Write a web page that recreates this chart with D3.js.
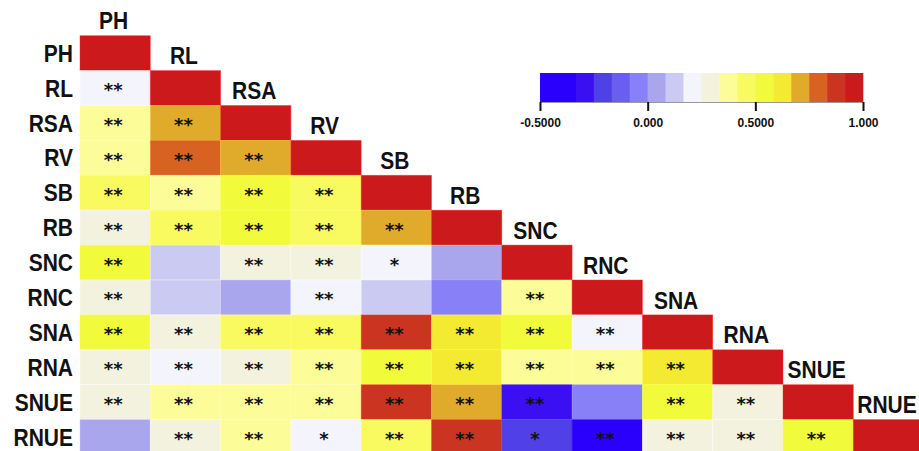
<!DOCTYPE html>
<html>
<head>
<meta charset="utf-8">
<script src="https://cdn.jsdelivr.net/npm/d3@7"></script>
<style>
  html, body { margin: 0; padding: 0; background: #fff; }
  svg { display: block; font-family: "Liberation Sans", Arial, sans-serif; }
</style>
</head>
<body>
<svg id="chart" width="919" height="451"></svg>
<script>
// Traits, in matrix order
const variables = ["PH", "RL", "RSA", "RV", "SB", "RB", "SNC", "RNC", "SNA", "RNA", "SNUE", "RNUE"];

// Lower-triangle correlation coefficients: row i holds r(i, j) for j < i
const correlations = [
  [],
  [0.21],
  [0.38, 0.71],
  [0.36, 0.79, 0.70],
  [0.46, 0.37, 0.55, 0.47],
  [0.29, 0.45, 0.54, 0.48, 0.72],
  [0.55, 0.12, 0.30, 0.28, 0.20, 0.04],
  [0.29, 0.11, 0.05, 0.22, 0.13, -0.04, 0.38],
  [0.56, 0.30, 0.47, 0.46, 0.88, 0.63, 0.54, 0.21],
  [0.28, 0.19, 0.31, 0.39, 0.53, 0.62, 0.37, 0.36, 0.64],
  [0.30, 0.38, 0.37, 0.39, 0.87, 0.72, -0.31, -0.03, 0.55, 0.27],
  [0.06, 0.29, 0.36, 0.20, 0.47, 0.86, -0.19, -0.42, 0.31, 0.30, 0.54]
];

// Significance marks for the same cells (* p<0.05, ** p<0.01)
const significance = [
  [],
  ["**"],
  ["**", "**"],
  ["**", "**", "**"],
  ["**", "**", "**", "**"],
  ["**", "**", "**", "**", "**"],
  ["**", "", "**", "**", "*", ""],
  ["**", "", "", "**", "", "", "**"],
  ["**", "**", "**", "**", "**", "**", "**", "**"],
  ["**", "**", "**", "**", "**", "**", "**", "**", "**"],
  ["**", "**", "**", "**", "**", "**", "**", "", "**", "**"],
  ["", "**", "**", "*", "**", "**", "*", "**", "**", "**", "**"]
];

// Stepped palette, 18 classes from -0.5 to 1
const palette = [
  "#2a00fc", "#2a00fc", "#3a10f2", "#5040e8", "#6a5ef0", "#8880f6",
  "#aaa6ee", "#cacaf2", "#f4f4fc", "#f2f2de", "#fcfc98", "#f9f960",
  "#f2fa3c", "#f4ea32", "#e0aa2a", "#d86222", "#cc3422", "#cc1a1c"
];
const legendDomain = [-0.5, 1];
const legendTicks = [-0.5, 0, 0.5, 1];
const legendTickLabels = ["-0.5000", "0.000", "0.5000", "1.000"];

const svg = d3.select("#chart");

const color = d3.scaleQuantize().domain(legendDomain).range(palette);

const x = d3.scaleBand().domain(variables).range([80, 80 + 12 * 70.3]).padding(0);
const y = d3.scaleBand().domain(variables).range([35.7, 35.7 + 12 * 34.9]).padding(0);

// Build the lower triangle plus the diagonal
const cells = [];
variables.forEach((rowVar, i) => {
  variables.forEach((colVar, j) => {
    if (j < i) {
      cells.push({ row: rowVar, col: colVar, r: correlations[i][j], sig: significance[i][j] });
    } else if (j === i) {
      cells.push({ row: rowVar, col: colVar, r: 1, sig: "" });
    }
  });
});

const grid = svg.append("g");

grid.selectAll("rect")
  .data(cells)
  .join("rect")
  .attr("x", d => x(d.col))
  .attr("y", d => y(d.row))
  .attr("width", x.bandwidth())
  .attr("height", y.bandwidth())
  .attr("fill", d => color(d.r))
  .attr("stroke", d => d3.color(color(d.r)).brighter(0.6))
  .attr("stroke-opacity", 0.5)
  .attr("stroke-width", 0.8);

grid.selectAll("text.sig")
  .data(cells.filter(d => d.sig))
  .join("text")
  .attr("class", "sig")
  .attr("x", d => x(d.col) + x.bandwidth() / 2 - 2)
  .attr("y", d => y(d.row) + y.bandwidth() / 2 + 8)
  .attr("text-anchor", "middle")
  .attr("font-family", "'DejaVu Sans', sans-serif")
  .attr("font-size", 18)
  .attr("font-weight", "bold")
  .attr("fill", "#111")
  .text(d => d.sig);

// Labels drawn slightly tall, anchored at their baseline
function tallLabel(g, px, py, anchor, txt) {
  g.append("text")
    .attr("transform", `translate(${px},${py}) scale(1,1.1)`)
    .attr("text-anchor", anchor)
    .attr("font-size", 21)
    .attr("font-weight", "bold")
    .attr("fill", "#111")
    .text(txt);
}

// Row labels on the left
const rowLabels = svg.append("g");
variables.forEach(v => tallLabel(rowLabels, 73, y(v) + y.bandwidth() / 2 + 8.6, "end", v));

// Column labels sit just above each diagonal cell
const colLabels = svg.append("g");
variables.forEach(v => tallLabel(colLabels, x(v) + x.bandwidth() / 2 - 1.5, y(v) - 6.4, "middle", v));

// Colour legend
const lx = d3.scaleLinear().domain(legendDomain).range([540, 863]);
const step = (legendDomain[1] - legendDomain[0]) / palette.length;
const legend = svg.append("g");

legend.selectAll("rect")
  .data(palette)
  .join("rect")
  .attr("x", (c, i) => lx(legendDomain[0] + i * step))
  .attr("y", 73)
  .attr("width", lx(legendDomain[0] + step) - lx(legendDomain[0]) + 0.3)
  .attr("height", 29)
  .attr("fill", c => c);

const axis = legend.append("g")
  .attr("transform", "translate(0,102)")
  .call(d3.axisBottom(lx)
    .tickValues(legendTicks)
    .tickFormat((d, i) => legendTickLabels[i])
    .tickSize(9)
    .tickSizeOuter(0));

axis.select(".domain").attr("stroke", "#999").attr("stroke-width", 1.2);
axis.selectAll(".tick line").attr("stroke", "#111").attr("stroke-width", 2);
axis.selectAll(".tick text")
  .attr("font-family", "'Liberation Sans', Arial, sans-serif")
  .attr("font-size", 12)
  .attr("font-weight", "bold")
  .attr("fill", "#111")
  .attr("dy", "1.05em");
</script>
</body>
</html>
